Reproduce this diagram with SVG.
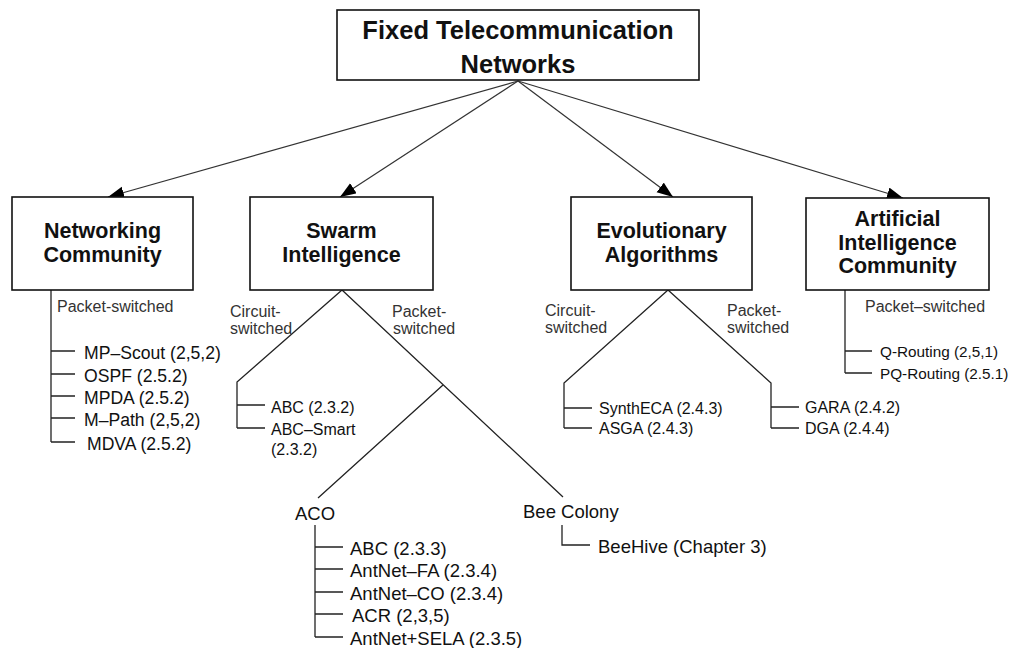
<svg xmlns="http://www.w3.org/2000/svg" width="1036" height="648" viewBox="0 0 1036 648">
<style>
.box{fill:#fff;stroke:#111;stroke-width:1.6}
.hd{font-family:"Liberation Sans",Arial,sans-serif;font-weight:bold;font-size:21.5px;fill:#111;text-anchor:middle}
.ttl{font-family:"Liberation Sans",Arial,sans-serif;font-weight:bold;font-size:25.5px;fill:#111;text-anchor:middle}
.it{font-family:"Liberation Sans",Arial,sans-serif;font-size:16px;fill:#111}
.itl{font-family:"Liberation Sans",Arial,sans-serif;font-size:17.6px;fill:#111}
.itx{font-family:"Liberation Sans",Arial,sans-serif;font-size:18.5px;fill:#111}
.its{font-family:"Liberation Sans",Arial,sans-serif;font-size:15.3px;fill:#111}
.lb{font-family:"Liberation Sans",Arial,sans-serif;font-size:16px;fill:#333}
.ln{fill:none;stroke:#222;stroke-width:1.3}
.ar{fill:none;stroke:#333;stroke-width:1.2}
</style>
<defs>
<marker id="ah" markerUnits="userSpaceOnUse" markerWidth="18" markerHeight="14" refX="16" refY="6" orient="auto">
<path d="M0,0 L16,6 L0,12 Z" fill="#000"/>
</marker>
</defs>
<rect width="1036" height="648" fill="#fff"/>
<g id="connectors">
<line class="ar" x1="518" y1="81" x2="108" y2="197" marker-end="url(#ah)"/>
<line class="ar" x1="518" y1="81" x2="340" y2="197" marker-end="url(#ah)"/>
<line class="ar" x1="518" y1="81" x2="673" y2="197" marker-end="url(#ah)"/>
<line class="ar" x1="518" y1="81" x2="903" y2="198" marker-end="url(#ah)"/>
<path class="ln" d="M51,290 V442 M51,351 H75 M51,374 H75 M51,396 H75 M51,418 H75 M51,442 H75"/>
<path class="ln" d="M342,290 L237,382 V428 M237,405 H265 M237,428 H265"/>
<path class="ln" d="M342,290 L563,497 M443,385 L318,498"/>
<path class="ln" d="M315,525 V637 M315,547 H343 M315,569 H343 M315,592 H343 M315,614 H343 M315,637 H343"/>
<path class="ln" d="M562,525 V545 H590"/>
<path class="ln" d="M668,290 L564,383 V428 M564,408 H592 M564,428 H592"/>
<path class="ln" d="M668,290 L771,383 V428 M771,407 H799 M771,428 H799"/>
<path class="ln" d="M845,290 V373 M845,351 H872 M845,373 H872"/>
</g>
<g id="root">
<rect class="box" x="337" y="10" width="362" height="70"/>
<text class="ttl" x="518" y="39">Fixed Telecommunication</text>
<text class="ttl" x="518" y="73">Networks</text>
</g>
<g id="networking">
<rect class="box" x="12" y="197" width="181" height="93"/>
<text class="hd" x="102.5" y="238">Networking</text>
<text class="hd" x="102.5" y="262">Community</text>
</g>
<g id="swarm">
<rect class="box" x="250" y="197" width="183" height="93"/>
<text class="hd" x="341.5" y="238">Swarm</text>
<text class="hd" x="341.5" y="262">Intelligence</text>
</g>
<g id="evolutionary">
<rect class="box" x="571" y="197" width="181" height="93"/>
<text class="hd" x="661.5" y="238">Evolutionary</text>
<text class="hd" x="661.5" y="262">Algorithms</text>
</g>
<g id="ai">
<rect class="box" x="806" y="198" width="183" height="92"/>
<text class="hd" x="897.5" y="226">Artificial</text>
<text class="hd" x="897.5" y="250">Intelligence</text>
<text class="hd" x="897.5" y="273">Community</text>
</g>
<g id="labels">
<text class="lb" x="57" y="312">Packet-switched</text>
<text class="lb" x="230" y="317">Circuit-</text>
<text class="lb" x="230" y="334">switched</text>
<text class="lb" x="392" y="317">Packet-</text>
<text class="lb" x="393" y="334">switched</text>
<text class="lb" x="545" y="316">Circuit-</text>
<text class="lb" x="545" y="333">switched</text>
<text class="lb" x="727" y="316">Packet-</text>
<text class="lb" x="727" y="333">switched</text>
<text class="lb" x="865" y="312">Packet–switched</text>
</g>
<g id="networking-items">
<text class="itl" x="84" y="359">MP–Scout (2,5,2)</text>
<text class="itl" x="84" y="382">OSPF (2.5.2)</text>
<text class="itl" x="84" y="404">MPDA (2.5.2)</text>
<text class="itl" x="84" y="426">M–Path (2,5,2)</text>
<text class="itl" x="87" y="450">MDVA (2.5.2)</text>
</g>
<g id="swarm-circuit-items">
<text class="it" x="271" y="413">ABC (2.3.2)</text>
<text class="it" x="271" y="435">ABC–Smart</text>
<text class="it" x="271" y="455">(2.3.2)</text>
</g>
<g id="aco">
<text class="itx" x="295" y="520">ACO</text>
<text class="itx" x="350" y="555">ABC (2.3.3)</text>
<text class="itx" x="350" y="577">AntNet–FA (2.3.4)</text>
<text class="itx" x="350" y="600">AntNet–CO (2.3.4)</text>
<text class="itx" x="352" y="622">ACR (2,3,5)</text>
<text class="itx" x="350" y="645">AntNet+SELA (2.3.5)</text>
</g>
<g id="bee-colony">
<text class="itx" x="523" y="518">Bee Colony</text>
<text class="itx" x="598" y="553">BeeHive (Chapter 3)</text>
</g>
<g id="evo-items">
<text class="it" x="599" y="414">SynthECA (2.4.3)</text>
<text class="it" x="599" y="434">ASGA (2.4.3)</text>
<text class="it" x="805" y="413">GARA (2.4.2)</text>
<text class="it" x="805" y="434">DGA (2.4.4)</text>
</g>
<g id="ai-items">
<text class="its" x="880" y="357">Q-Routing (2,5,1)</text>
<text class="its" x="880" y="379">PQ-Routing (2.5.1)</text>
</g>
</svg>
